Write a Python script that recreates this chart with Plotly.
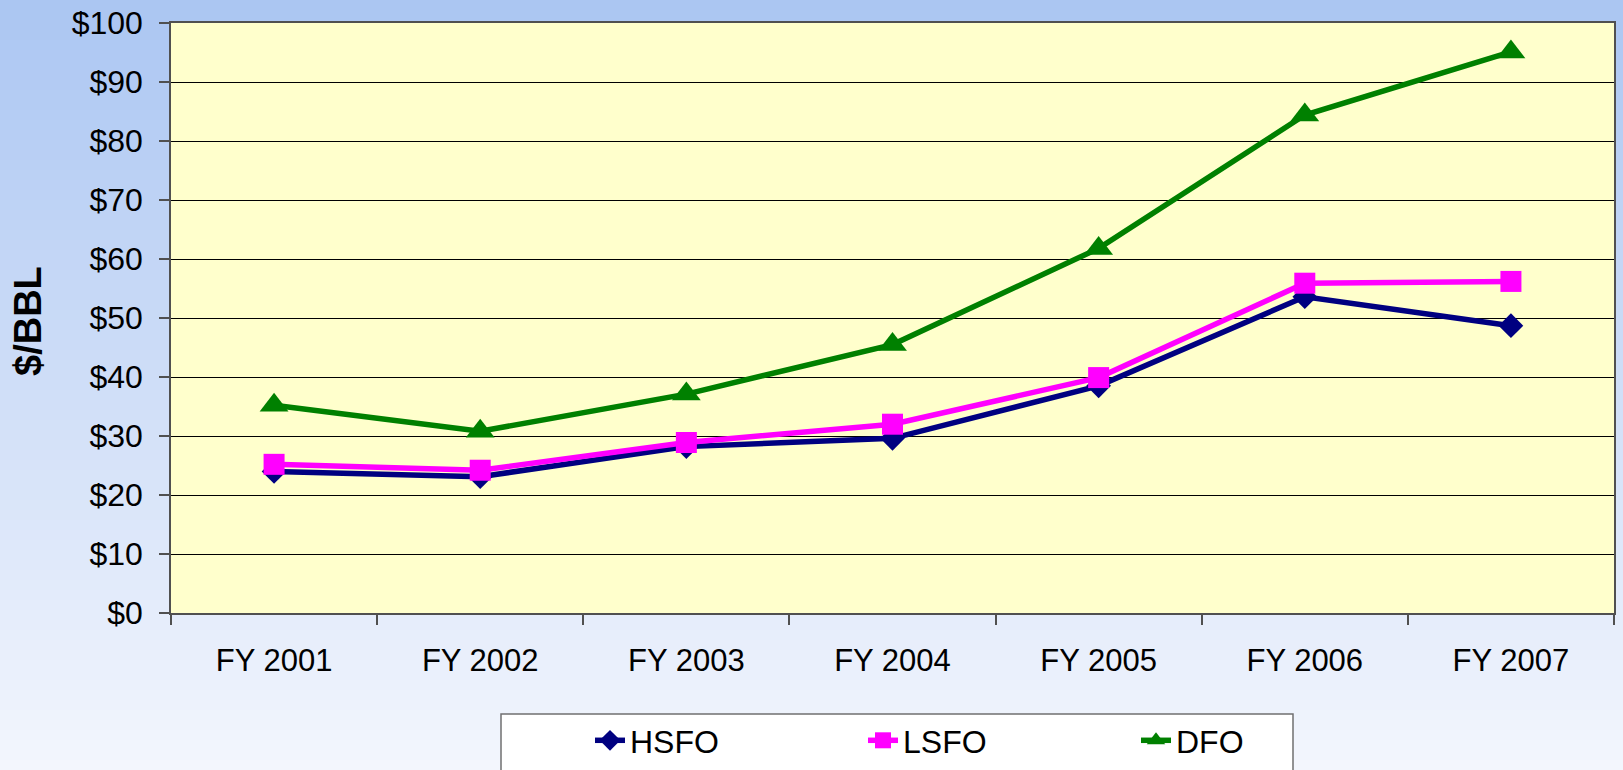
import plotly.graph_objects as go

categories = ["FY 2001", "FY 2002", "FY 2003", "FY 2004", "FY 2005", "FY 2006", "FY 2007"]
hsfo = [24.0, 23.1, 28.2, 29.6, 38.5, 53.6, 48.7]
lsfo = [25.2, 24.2, 28.9, 32.0, 39.9, 55.9, 56.2]
dfo = [35.2, 30.8, 37.1, 45.5, 61.8, 84.4, 95.1]
y_ticks = [0, 10, 20, 30, 40, 50, 60, 70, 80, 90, 100]
y_tick_text = ["$" + str(v) for v in y_ticks]

W, H = 1623, 770
L, R, T, B = 171, 9, 23, 157
PW, PH = W - L - R, H - T - B

def px(x):
    return (x - L) / PW

def py(y):
    return (H - B - y) / PH

FONT = "Arial, Liberation Sans, sans-serif"

fig = go.Figure()
fig.add_trace(go.Scatter(x=categories, y=hsfo, name="HSFO", mode="lines+markers",
                         line=dict(color="#000080", width=5.5),
                         marker=dict(symbol="diamond", size=19, color="#000080")))
fig.add_trace(go.Scatter(x=categories, y=lsfo, name="LSFO", mode="lines+markers",
                         line=dict(color="#FF00FF", width=5.5),
                         marker=dict(symbol="square", size=21, color="#FF00FF")))
fig.add_trace(go.Scatter(x=categories, y=dfo, name="DFO", mode="lines+markers",
                         line=dict(color="#008000", width=5.5),
                         marker=dict(symbol="triangle-up", size=25, color="#008000")))

# gradient background bands
shapes = []
top_c = (171, 198, 242)
bot_c = (243, 246, 253)
n = 77
for i in range(n):
    t = i / (n - 1)
    c = tuple(int(round(top_c[k] + (bot_c[k] - top_c[k]) * t)) for k in range(3))
    y0 = i * H / n
    y1 = (i + 1) * H / n + 1
    shapes.append(dict(type="rect", xref="paper", yref="paper",
                       x0=px(0), x1=px(W), y0=py(y1), y1=py(y0),
                       fillcolor="rgb(%d,%d,%d)" % c, line=dict(width=0), layer="below"))
# plot area fill
shapes.append(dict(type="rect", xref="paper", yref="paper", x0=0, x1=1, y0=0, y1=1,
                   fillcolor="#FFFFCC", line=dict(width=0), layer="below"))
# legend box
shapes.append(dict(type="rect", xref="paper", yref="paper",
                   x0=px(501), x1=px(1293), y0=py(800), y1=py(714),
                   fillcolor="white", line=dict(color="#707070", width=1.5), layer="below"))

fig.update_layout(
    width=W, height=H,
    margin=dict(l=L, r=R, t=T, b=B, autoexpand=False),
    paper_bgcolor="rgba(0,0,0,0)",
    plot_bgcolor="rgba(0,0,0,0)",
    shapes=shapes,
    font=dict(family=FONT, color="black"),
    showlegend=True,
    legend=dict(orientation="h", x=px(590), y=py(713), xanchor="left", yanchor="top",
                bgcolor="rgba(0,0,0,0)", borderwidth=0,
                font=dict(family=FONT, size=32, color="black"),
                entrywidth=228, entrywidthmode="pixels", itemsizing="trace"),
    xaxis=dict(range=[-0.5, 6.5], showgrid=False, showline=True, linecolor="#505050",
               linewidth=1.5, mirror=True,
               ticks="outside", ticklen=10, tickcolor="#505050", tickwidth=1.5,
               tickson="boundaries", tickfont=dict(family=FONT, size=31, color="black"),
               ticklabelstandoff=19, fixedrange=True, automargin=False),
    yaxis=dict(range=[0, 100], tickvals=y_ticks, ticktext=y_tick_text,
               showgrid=True, gridcolor="black", gridwidth=1,
               showline=True, linecolor="#505050", linewidth=1.5, mirror=True,
               ticks="outside", ticklen=10, tickcolor="#505050", tickwidth=1.5,
               tickfont=dict(family=FONT, size=32, color="black"),
               ticklabelstandoff=10, zeroline=False, fixedrange=True, automargin=False),
    annotations=[dict(text="<b>$/BBL</b>", textangle=-90, xref="paper", yref="paper",
                      x=px(28), y=py(321), xanchor="center", yanchor="middle",
                      showarrow=False, font=dict(family=FONT, size=38, color="black"))],
)

fig.write_html("out.html", config={"displayModeBar": False},
               post_script="document.body.style.margin='0';")
